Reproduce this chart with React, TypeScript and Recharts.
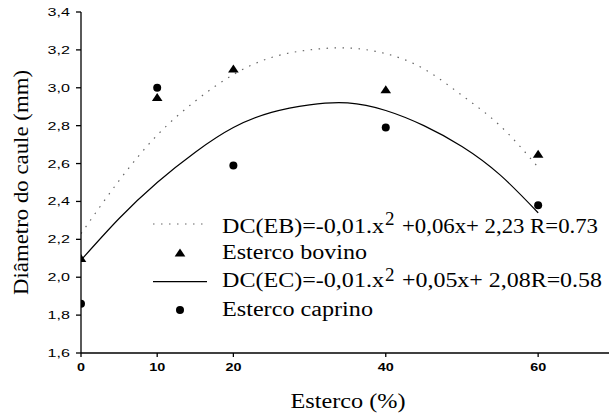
import { ComposedChart, Line, Scatter, XAxis, YAxis, Label } from "recharts";

const doses = [0, 10, 20, 40, 60];
const bovino = [2.1, 2.95, 3.1, 2.99, 2.65];
const caprino = [1.86, 3.0, 2.59, 2.79, 2.38];

// fitted curves, every 5 %
const fitX = [0, 5, 10, 15, 20, 25, 30, 35, 40, 45, 50, 55, 60];
const fitEB = [2.23, 2.51, 2.75, 2.93, 3.07, 3.16, 3.2, 3.21, 3.18, 3.1, 2.96, 2.8, 2.58];
const fitEC = [2.09, 2.31, 2.5, 2.66, 2.79, 2.87, 2.91, 2.92, 2.88, 2.8, 2.69, 2.54, 2.34];

const xTicks = [0, 10, 20, 40, 60];
const yTicks = [1.6, 1.8, 2.0, 2.2, 2.4, 2.6, 2.8, 3.0, 3.2, 3.4];

const eqEB = ["DC(EB)=-0,01.x", "2", "+0,06x+ 2,23 R=0.73"];
const eqEC = ["DC(EC)=-0,01.x", "2", "+0,05x+ 2,08R=0.58"];

const serifStyle = { fontFamily: '"Liberation Serif", "Times New Roman", Times, "DejaVu Serif", serif' };
const sansStyle = { fontFamily: '"Liberation Sans", Arial, Helvetica, sans-serif' };

const bovData = doses.map((x, i) => ({ x, y: bovino[i] }));
const capData = doses.map((x, i) => ({ x, y: caprino[i] }));
const ebData = fitX.map((x, i) => ({ x, y: fitEB[i] }));
const ecData = fitX.map((x, i) => ({ x, y: fitEC[i] }));

const Tri = ({ cx, cy }: any) => (
  <polygon points={`${cx},${cy - 4.3} ${cx + 5.3},${cy + 3.7} ${cx - 5.3},${cy + 3.7}`} fill="#000" />
);
const Dot = ({ cx, cy }: any) => <circle cx={cx} cy={cy} r={4} fill="#000" />;

const XTick = ({ x, y, payload }: any) => (
  <g transform={`translate(${x},${y})`}>
    <text transform="scale(1.25,1)" textAnchor="middle" dy={8} style={sansStyle} fontWeight="bold" fontSize={11.5} fill="#000">
      {payload.value}
    </text>
  </g>
);

const YTick = ({ x, y, payload }: any) => (
  <g transform={`translate(${x},${y})`}>
    <text transform="scale(1.4,1)" textAnchor="end" dy={4} style={sansStyle} fontSize={11.5} fill="#000">
      {payload.value.toFixed(1).replace(".", ",")}
    </text>
  </g>
);

function Legend() {
  const t = { style: serifStyle, fontSize: 20, fill: "#000", lengthAdjust: "spacingAndGlyphs" as const };
  return (
    <svg width={609} height={414} style={{ position: "absolute", left: 0, top: 0, pointerEvents: "none" }}>
      <line x1={153} x2={207} y1={224} y2={224} stroke="#666" strokeWidth={1.2} strokeDasharray="1.5 6.5" />
      <text x={222} y={233} textLength={162} {...t}>{eqEB[0]}</text>
      <text x={385} y={225} style={serifStyle} fontSize={19}>{eqEB[1]}</text>
      <text x={402} y={233} textLength={196} {...t}>{eqEB[2]}</text>

      <polygon points="180,248.4 185.3,256.4 174.7,256.4" fill="#000" />
      <text x={222} y={259} textLength={145} {...t}>Esterco bovino</text>

      <line x1={153} x2={207} y1={281.7} y2={281.7} stroke="#000" strokeWidth={1.2} />
      <text x={222} y={287} textLength={162} {...t}>{eqEC[0]}</text>
      <text x={385} y={281} style={serifStyle} fontSize={19}>{eqEC[1]}</text>
      <text x={402} y={287} textLength={200} {...t}>{eqEC[2]}</text>

      <circle cx={180} cy={310} r={4} fill="#000" />
      <text x={222} y={316} textLength={151} {...t}>Esterco caprino</text>
    </svg>
  );
}

export default function App() {
  return (
    <div style={{ position: "absolute", left: 0, top: 0, width: 609, height: 414, background: "#fff" }}>
      <ComposedChart width={609} height={414} margin={{ top: 12, right: 0, bottom: 0, left: 0 }}>
        <XAxis
          type="number"
          dataKey="x"
          domain={[0, 69.3]}
          ticks={xTicks}
          allowDataOverflow
          height={61}
          tick={<XTick />}
          tickSize={4}
          tickMargin={6}
          axisLine={{ stroke: "#000", strokeWidth: 1.3 }}
          tickLine={{ stroke: "#000", strokeWidth: 1.3 }}
        >
          <Label
            content={({ viewBox }: any) => (
              <text
                x={viewBox.x + viewBox.width / 2 + 3}
                y={408}
                textAnchor="middle"
                style={serifStyle}
                fontSize={21}
                textLength={115}
                lengthAdjust="spacingAndGlyphs"
              >
                Esterco (%)
              </text>
            )}
          />
        </XAxis>
        <YAxis
          type="number"
          domain={[1.6, 3.4]}
          ticks={yTicks}
          width={81}
          tick={<YTick />}
          tickSize={5}
          tickMargin={6}
          axisLine={{ stroke: "#000", strokeWidth: 1.3 }}
          tickLine={{ stroke: "#000", strokeWidth: 1.3 }}
        >
          <Label
            content={({ viewBox }: any) => {
              const cy = viewBox.y + viewBox.height / 2;
              return (
                <text
                  x={28}
                  y={cy}
                  transform={`rotate(-90, 28, ${cy})`}
                  textAnchor="middle"
                  style={serifStyle}
                  fontSize={21}
                  textLength={225}
                  lengthAdjust="spacingAndGlyphs"
                >
                  Diâmetro do caule (mm)
                </text>
              );
            }}
          />
        </YAxis>
        <Line data={ebData} dataKey="y" type="natural" stroke="#666" strokeWidth={1.2} strokeDasharray="1.5 6.5" dot={false} isAnimationActive={false} />
        <Line data={ecData} dataKey="y" type="natural" stroke="#000" strokeWidth={1.2} dot={false} isAnimationActive={false} />
        <Scatter data={bovData} dataKey="y" shape={<Tri />} isAnimationActive={false} />
        <Scatter data={capData} dataKey="y" shape={<Dot />} isAnimationActive={false} />
      </ComposedChart>
      <Legend />
    </div>
  );
}
